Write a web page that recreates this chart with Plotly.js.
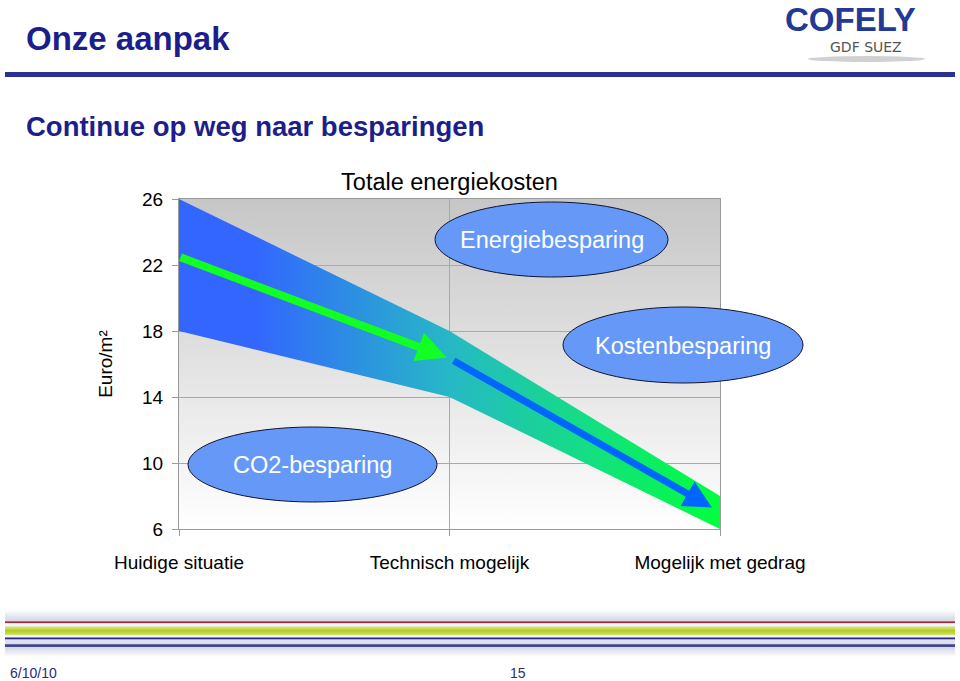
<!DOCTYPE html>
<html>
<head>
<meta charset="utf-8">
<script src="https://cdn.plot.ly/plotly-3.0.1.min.js"></script>
<style>
  html, body { margin: 0; padding: 0; background: #ffffff; }
  #chart { width: 960px; height: 681px; }
</style>
</head>
<body>
<div id="chart"></div>
<script>
// ---- data ----
const categories = ["Huidige situatie", "Technisch mogelijk", "Mogelijk met gedrag"];
const catIndex = [0, 1, 2];
const bandUpper = [26, 18, 8];     // Totale energiekosten - upper edge
const bandLower = [18, 14, 6];     // lower edge
const yTicks = [6, 10, 14, 18, 22, 26];
const greenArrowX = [0, 0.99];
const greenArrowY = [22.5, 16.4];
const blueArrowX = [1.01, 1.97];
const blueArrowY = [16.25, 7.3];
const bubbleLabels = ["Energiebesparing", "Kostenbesparing", "CO2-besparing"];

// ---- geometry helpers (pixel -> paper) ----
const W = 960, H = 681;
const M = { l: 179, r: 240, t: 199, b: 152 };
const PW = W - M.l - M.r, PH = H - M.t - M.b;
const px = x => (x - M.l) / PW;
const py = y => (H - M.b - y) / PH;

const FONT = "Liberation Sans, Arial, Helvetica, sans-serif";

const traces = [
  {
    x: catIndex, y: bandLower, mode: "lines", line: { width: 0, color: "rgba(0,0,0,0)" },
    hoverinfo: "skip", showlegend: false
  },
  {
    x: catIndex, y: bandUpper, mode: "lines", line: { width: 0, color: "rgba(0,0,0,0)" },
    fill: "tonexty",
    fillgradient: {
      type: "horizontal",
      colorscale: [[0, "#3366ff"], [0.14, "#3366ff"], [0.5, "#26b8c6"], [0.78, "#12e27c"], [1, "#00ff3c"]]
    },
    hoverinfo: "skip", showlegend: false
  }
];

// background gradient for plot area
const bgSvg = '<svg xmlns="http://www.w3.org/2000/svg" width="100" height="100" viewBox="0 0 100 100" preserveAspectRatio="none">' +
  '<defs><linearGradient id="g" x1="0" y1="0" x2="0" y2="1">' +
  '<stop offset="0" stop-color="#c6c6c6"/><stop offset="1" stop-color="#ffffff"/>' +
  '</linearGradient></defs><rect width="100" height="100" fill="url(#g)"/></svg>';

const footSvg = '<svg xmlns="http://www.w3.org/2000/svg" width="950" height="47" viewBox="0 0 950 47" preserveAspectRatio="none">' +
  '<defs>' +
  '<linearGradient id="b" x1="0" y1="0" x2="0" y2="1">' +
  '<stop offset="0" stop-color="#ffffff"/><stop offset="0.2" stop-color="#d7dbe8"/>' +
  '<stop offset="0.5" stop-color="#eceef5"/><stop offset="0.8" stop-color="#d5d8e7"/>' +
  '<stop offset="1" stop-color="#ffffff"/></linearGradient>' +
  '<linearGradient id="y" x1="0" y1="0" x2="0" y2="1">' +
  '<stop offset="0" stop-color="#dbe88e"/><stop offset="0.5" stop-color="#b2cd1c"/>' +
  '<stop offset="1" stop-color="#d2e173"/></linearGradient>' +
  '</defs>' +
  '<rect width="950" height="47" fill="url(#b)"/>' +
  '<rect x="0" y="13" width="950" height="3" fill="#ffffff" opacity="0.7"/>' +
  '<rect x="0" y="11.3" width="950" height="1.8" fill="#b4283c"/>' +
  '<rect x="0" y="16.5" width="950" height="8.5" fill="url(#y)"/>' +
  '<rect x="0" y="25" width="950" height="2.5" fill="#f4f5f9"/>' +
  '<rect x="0" y="27.5" width="950" height="1.8" fill="#2a2d86"/>' +
  '<rect x="0" y="34.3" width="950" height="2.6" fill="#3c3e8c"/>' +
  '</svg>';

const toUri = s => "data:image/svg+xml;charset=utf-8," + encodeURIComponent(s);

function ellipse(cx, cy, rx, ry) {
  return {
    type: "circle", xref: "paper", yref: "paper", layer: "above",
    x0: px(cx - rx), x1: px(cx + rx), y0: py(cy + ry), y1: py(cy - ry),
    fillcolor: "#6699f7", line: { color: "#111133", width: 1 }
  };
}

const shapes = [
  // header rule
  { type: "line", xref: "paper", yref: "paper", x0: px(5), x1: px(955), y0: py(74.5), y1: py(74.5),
    line: { color: "#2a3196", width: 5 } },
  // logo shadow
  { type: "circle", xref: "paper", yref: "paper", x0: px(808), x1: px(925), y0: py(62), y1: py(56),
    fillcolor: "#9a9a9a", opacity: 0.45, line: { width: 0 } },
  ellipse(551.5, 239.5, 116.5, 37.5),
  ellipse(683, 345, 120, 38),
  ellipse(312.5, 464.5, 124.5, 37.5)
];

const annotations = [
  { text: "<b>Onze aanpak</b>", xref: "paper", yref: "paper", x: px(24), y: py(38),
    xanchor: "left", yanchor: "middle", showarrow: false,
    font: { family: FONT, size: 33, color: "#1c1e8c" } },
  { text: "<b>Continue op weg naar besparingen</b>", xref: "paper", yref: "paper", x: px(24), y: py(126),
    xanchor: "left", yanchor: "middle", showarrow: false,
    font: { family: FONT, size: 27.5, color: "#1c1e8c" } },
  { text: "<b>COFELY</b>", xref: "paper", yref: "paper", x: px(850), y: py(19),
    xanchor: "center", yanchor: "middle", showarrow: false,
    font: { family: FONT, size: 33, color: "#223996" } },
  { text: "GDF SUEZ", xref: "paper", yref: "paper", x: px(866), y: py(47),
    xanchor: "center", yanchor: "middle", showarrow: false,
    font: { family: "DejaVu Sans, " + FONT, size: 14, color: "#555555" } },
  // bubble labels
  { text: bubbleLabels[0], xref: "paper", yref: "paper", x: px(551.5), y: py(240), showarrow: false,
    xanchor: "center", yanchor: "middle", font: { family: FONT, size: 23.5, color: "#ffffff" } },
  { text: bubbleLabels[1], xref: "paper", yref: "paper", x: px(683), y: py(346), showarrow: false,
    xanchor: "center", yanchor: "middle", font: { family: FONT, size: 23.5, color: "#ffffff" } },
  { text: bubbleLabels[2], xref: "paper", yref: "paper", x: px(312.5), y: py(465), showarrow: false,
    xanchor: "center", yanchor: "middle", font: { family: FONT, size: 23.5, color: "#ffffff" } },
  // arrows
  { xref: "x", yref: "y", axref: "x", ayref: "y",
    x: greenArrowX[1], y: greenArrowY[1], ax: greenArrowX[0], ay: greenArrowY[0],
    text: "", showarrow: true, arrowhead: 2, arrowsize: 0.75, arrowwidth: 8, arrowcolor: "#11ff22", standoff: 0 },
  { xref: "x", yref: "y", axref: "x", ayref: "y",
    x: blueArrowX[1], y: blueArrowY[1], ax: blueArrowX[0], ay: blueArrowY[0],
    text: "", showarrow: true, arrowhead: 2, arrowsize: 0.8, arrowwidth: 7, arrowcolor: "#0066ff", standoff: 0 },
  // footer
  { text: "6/10/10", xref: "paper", yref: "paper", x: px(8), y: py(673), xanchor: "left", yanchor: "middle",
    showarrow: false, font: { family: FONT, size: 14, color: "#2b2b7a" } },
  { text: "15", xref: "paper", yref: "paper", x: px(518), y: py(673), xanchor: "center", yanchor: "middle",
    showarrow: false, font: { family: FONT, size: 14, color: "#2b2b7a" } }
];

const layout = {
  width: W, height: H,
  margin: { l: M.l, r: M.r, t: M.t, b: M.b, pad: 0 },
  paper_bgcolor: "#ffffff",
  plot_bgcolor: "rgba(0,0,0,0)",
  font: { family: FONT, size: 19, color: "#000000" },
  showlegend: false,
  title: {
    text: "Totale energiekosten", xref: "paper", x: 0.5, xanchor: "center",
    yref: "container", y: 1 - 182 / H, yanchor: "middle",
    font: { family: FONT, size: 23.5, color: "#000000" }
  },
  xaxis: {
    type: "linear", range: [0, 2], tickvals: catIndex, ticktext: categories,
    showgrid: true, gridcolor: "#a9a9a9", gridwidth: 1, zeroline: false,
    showline: true, linecolor: "#999999", linewidth: 1, mirror: true,
    ticks: "outside", ticklen: 6, tickcolor: "#999999", ticklabelstandoff: 10,
    tickfont: { family: FONT, size: 19, color: "#000000" }, fixedrange: true
  },
  yaxis: {
    range: [6, 26], tickvals: yTicks, showgrid: true, gridcolor: "#a9a9a9", gridwidth: 1, zeroline: false,
    showline: true, linecolor: "#999999", linewidth: 1, mirror: true,
    ticks: "outside", ticklen: 6, tickcolor: "#999999", ticklabelstandoff: 5,
    tickfont: { family: FONT, size: 19, color: "#000000" },
    title: { text: "Euro/m²", font: { family: FONT, size: 19, color: "#000000" }, standoff: 24 },
    fixedrange: true
  },
  images: [
    { source: toUri(bgSvg), xref: "paper", yref: "paper", x: 0, y: 1, sizex: 1, sizey: 1,
      sizing: "stretch", xanchor: "left", yanchor: "top", layer: "below" },
    { source: toUri(footSvg), xref: "paper", yref: "paper", x: px(5), y: py(610), sizex: px(955) - px(5),
      sizey: py(610) - py(657), sizing: "stretch", xanchor: "left", yanchor: "top", layer: "below" }
  ],
  shapes: shapes,
  annotations: annotations
};

Plotly.newPlot("chart", traces, layout, { staticPlot: true, displayModeBar: false });
</script>
</body>
</html>
